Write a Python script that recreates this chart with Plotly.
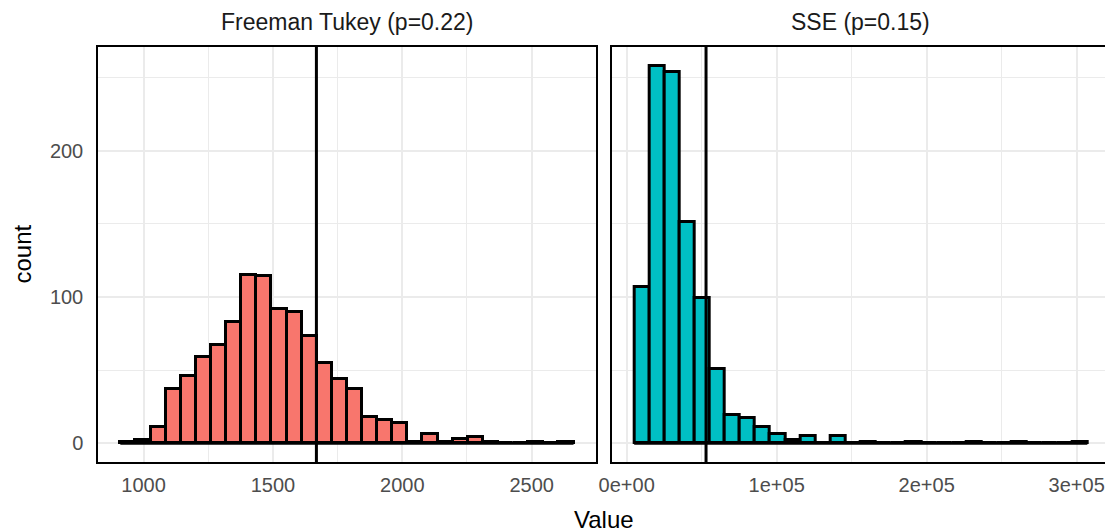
import plotly.graph_objects as go

# ---- data ----
ft_counts = [1, 2, 11, 37, 46, 59, 67, 83, 115, 114, 92, 90, 73, 55, 44,
             37, 18, 16, 14, 1, 6, 1, 3, 4, 1, 0, 0, 1, 0, 1]
ft_bin_start = 910
ft_bin_width = 58.4
ft_observed = 1668

sse_counts = [107, 258, 254, 151, 99, 51, 19, 17, 11, 6, 2, 5, 0, 5, 0,
              1, 0, 0, 1, 0, 0, 0, 1, 0, 0, 1, 0, 0, 0, 1]
sse_bin_start = 5000
sse_bin_width = 10070
sse_observed = 52900

panel_titles = ["Freeman Tukey (p=0.22)", "SSE (p=0.15)"]
ft_tickvals = [1000, 1500, 2000, 2500]
ft_ticktext = ["1000", "1500", "2000", "2500"]
sse_tickvals = [0, 100000, 200000, 300000]
sse_ticktext = ["0e+00", "1e+05", "2e+05", "3e+05"]
y_tickvals = [0, 100, 200]

# ---- derived ----
def centers(start, width, n):
    return [start + width * (i + 0.5) for i in range(n)]

ft_x = centers(ft_bin_start, ft_bin_width, len(ft_counts))
sse_x = centers(sse_bin_start, sse_bin_width, len(sse_counts))

FONT = "Liberation Sans, Arial, sans-serif"
GRID = "#EBEBEB"

fig = go.Figure()

panels = [
    (ft_x, ft_counts, ft_bin_width, ft_bin_start, "#F8766D", "x", "y"),
    (sse_x, sse_counts, sse_bin_width, sse_bin_start, "#00BFC4", "x2", "y2"),
]
for xs, cs, w, st, col, xa, ya in panels:
    # zero-count bins are drawn as flat outlines in the reference
    fig.add_trace(go.Scatter(
        x=[st, st + w * len(cs)], y=[0, 0], mode="lines",
        line=dict(color="black", width=3), xaxis=xa, yaxis=ya,
        showlegend=False, hoverinfo="skip"))
    fig.add_trace(go.Bar(
        x=xs, y=cs, width=w, marker=dict(color=col, line=dict(color="black", width=3)),
        xaxis=xa, yaxis=ya, showlegend=False))

fig.add_shape(type="line", xref="x", yref="y domain", x0=ft_observed, x1=ft_observed,
              y0=0, y1=1, line=dict(color="black", width=3))
fig.add_shape(type="line", xref="x2", yref="y2 domain", x0=sse_observed, x1=sse_observed,
              y0=0, y1=1, line=dict(color="black", width=3))

def axis_style(ticklen):
    return dict(
        showline=True, mirror=True, linecolor="black", linewidth=1.5,
        showgrid=True, gridcolor=GRID, gridwidth=2, zeroline=False,
        ticks="outside", ticklen=ticklen, tickcolor="rgba(0,0,0,0)",
        tickfont=dict(family=FONT, size=20, color="#4D4D4D"),
        automargin=False,
    )

minor_style = dict(showgrid=True, gridcolor=GRID, gridwidth=1.1)

fig.update_layout(
    width=1105, height=524,
    margin=dict(l=90, r=3, t=39, b=70),
    paper_bgcolor="white", plot_bgcolor="white",
    bargap=0,
    xaxis=dict(domain=[0, 0.4924], range=[823.7, 2750],
               tickvals=ft_tickvals, ticktext=ft_ticktext,
               minor=dict(tick0=0, dtick=250, **minor_style),
               **axis_style(4)),
    xaxis2=dict(domain=[0.5076, 1], range=[-10000, 322200],
                tickvals=sse_tickvals, ticktext=sse_ticktext,
                minor=dict(tick0=0, dtick=50000, **minor_style),
                **axis_style(4)),
    yaxis=dict(range=[-12.9, 270.9], tickvals=y_tickvals, anchor="x",
               minor=dict(tick0=0, dtick=50, **minor_style),
               **axis_style(9)),
    yaxis2=dict(range=[-12.9, 270.9], tickvals=y_tickvals, anchor="x2", showticklabels=False,
                matches="y",
                minor=dict(tick0=0, dtick=50, **minor_style),
                **axis_style(9)),
)

# strip titles
for title, dom in zip(panel_titles, [(0, 0.4924), (0.5076, 1)]):
    fig.add_annotation(text=title, xref="paper", yref="paper",
                       x=(dom[0] + dom[1]) / 2, y=1, xanchor="center", yanchor="middle",
                       yshift=25, showarrow=False,
                       font=dict(family=FONT, size=23, color="#1A1A1A"))

# axis titles
fig.add_annotation(text="Value", xref="paper", yref="paper", x=0.5, y=0,
                   xanchor="center", yanchor="middle", yshift=-57, showarrow=False,
                   font=dict(family=FONT, size=24, color="black"))
fig.add_annotation(text="count", xref="paper", yref="paper", x=0, y=0.5,
                   xanchor="center", yanchor="middle", xshift=-76, textangle=-90,
                   showarrow=False, font=dict(family=FONT, size=24, color="black"))

fig.write_html("out.html")
